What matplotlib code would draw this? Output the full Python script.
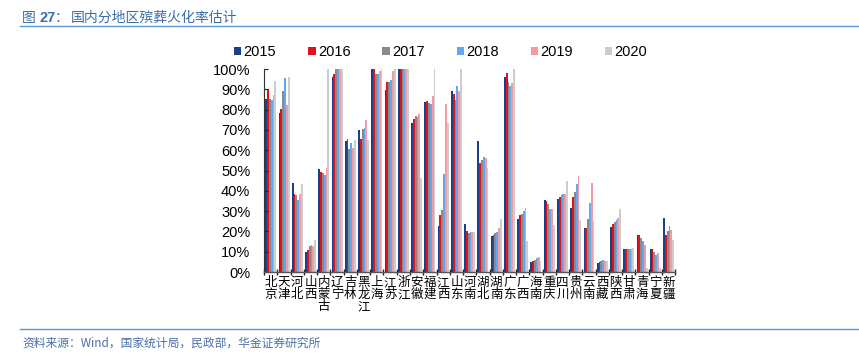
import matplotlib
matplotlib.use("Agg")
import matplotlib.pyplot as plt
import numpy as np
from matplotlib.ticker import FuncFormatter, FixedLocator

plt.rcParams['font.family'] = ['Liberation Sans', 'Noto Sans CJK SC']

# provinces and estimated cremation rates (%)
provinces = ['北京', '天津', '河北', '山西', '内蒙古', '辽宁', '吉林', '黑龙江',
             '上海', '江苏', '浙江', '安徽', '福建', '江西', '山东', '河南',
             '湖北', '湖南', '广东', '广西', '海南', '重庆', '四川', '贵州',
             '云南', '西藏', '陕西', '甘肃', '青海', '宁夏', '新疆']
years = ['2015', '2016', '2017', '2018', '2019', '2020']

v2015 = [85, 78.5, 44, 10, 50.5, 96, 64.5, 69.8, 100, 89.8, 100, 73.6, 83.8, 22.8, 89.3, 23.5,
         64.3, 17.5, 96.2, 26, 4.8, 35.6, 36.1, 31.5, 21.6, 4.3, 22.4, 11.2, 18, 11.4, 26.6]
v2016 = [90, 80.5, 38.5, 11, 49.3, 97.5, 65.3, 65.3, 100, 93.4, 100, 75.6, 84.3, 28.2, 87.6, 20.3,
         53.8, 18.3, 97.9, 28.3, 5.2, 34.8, 36.8, 37.1, 21.6, 5.1, 23.8, 11.2, 18.3, 11.4, 18.3]
v2017 = [85, 89, 38, 13, 48.7, 100, 60.4, 70.6, 97.3, 93.4, 100, 77, 83.5, 30.7, 84.8, 19.3,
         55.4, 19, 93.7, 28.6, 5.8, 33.5, 37.8, 39.3, 26.1, 5.5, 24.5, 11.2, 17, 10, 20]
v2018 = [84.7, 95.5, 35.5, 13.5, 48, 100, 63.4, 71, 97.3, 94.7, 100, 76.6, 83, 48.2, 91.7, 19.8,
         56.5, 19.5, 91.4, 30, 6.8, 31, 38.4, 43.4, 34, 5.8, 25.4, 11.2, 15.2, 8.4, 22.8]
v2019 = [87, 82.5, 38.5, 13, 51, 100, 61.2, 75, 99, 99, 100, 77.7, 86.5, 82.7, 89.3, 19.5,
         56.3, 21.6, 93, 31.6, 7.5, 30.8, 38.5, 47.2, 43.9, 5.6, 26.8, 11.2, 13.4, 9.2, 20.8]
v2020 = [94, 96, 43.5, 16, 100, 100, 65, 65, 100, 100, 100, 46.4, 100, 73.3, 100, 19.5,
         51.2, 26, 100, 15.2, 5.6, 23.4, 44.7, 25.7, 24.9, 5.5, 31.1, 11.6, 1.8, 1.8, 16]

series = [v2015, v2016, v2017, v2018, v2019, v2020]
colors = ['#1c3f8c', '#e2121b', '#8a8a8a', '#62a8ee', '#f59aa1', '#cdcdcd']

W, H = 859, 360
fig = plt.figure(figsize=(W / 100, H / 100), dpi=100)
ax = fig.add_axes([0.3075, 0.2444, 0.4785, 0.5639])

x = np.arange(len(provinces))
w = 0.138
for k, (vals, c, yr) in enumerate(zip(series, colors, years)):
    ax.bar(x + (k - 2.5) * w, vals, width=w, color=c, label=yr, linewidth=0)

ax.set_xlim(-0.5, len(provinces) - 0.5)
ax.set_ylim(0, 100)
ax.set_yticks(np.arange(0, 101, 10))
ax.yaxis.set_major_formatter(FuncFormatter(lambda v, p: '%d%%' % v))
ax.tick_params(axis='y', direction='in', length=3, width=0.8, labelsize=10.5, pad=10,
               colors='#222222', labelcolor='black')

ax.set_xticks(x)
ax.set_xticklabels(['\n'.join(p) for p in provinces], fontsize=9,
                   family=['Noto Sans CJK SC'], linespacing=0.9)
ax.tick_params(axis='x', length=0, pad=3)
ax.xaxis.set_minor_locator(FixedLocator(np.arange(-0.5, len(provinces), 1.0)))
ax.tick_params(axis='x', which='minor', direction='inout', length=5, width=1.0, color='#222222')

for s in ['top', 'right']:
    ax.spines[s].set_visible(False)
ax.spines['left'].set_color('#333333')
ax.spines['left'].set_linewidth(0.8)
ax.spines['bottom'].set_color('#555555')
ax.spines['bottom'].set_linewidth(1.0)

leg = fig.legend(loc='center', bbox_to_anchor=(0.513, 0.856), ncol=6, frameon=False,
                 fontsize=10.5, handlelength=0.5, handleheight=0.5, handletextpad=0.15,
                 columnspacing=2.2)

# title block and source line
tc = '#3b6ea8'
fig.text(22 / W, 0.95, '图', fontsize=10, color=tc, va='center', family=['Noto Sans CJK SC'])
fig.text(39 / W, 0.95, '27', fontsize=10.5, color=tc, va='center', weight='bold')
fig.text(55 / W, 0.95, '：', fontsize=10, color=tc, va='center', family=['Noto Sans CJK SC'])
fig.text(71 / W, 0.95, '国内分地区殡葬火化率估计', fontsize=10, color=tc, va='center',
         family=['Noto Sans CJK SC'])
fig.add_artist(plt.Line2D([0.023, 1.0], [0.927, 0.927], color='#5b95cf', linewidth=1.0))
fig.add_artist(plt.Line2D([0.023, 1.0], [0.087, 0.087], color='#5b95cf', linewidth=1.0))
fig.text(22 / W, 0.048, '资料来源：Wind，国家统计局，民政部，华金证券研究所', fontsize=8.5,
         color='#4a6fa5', va='center', family=['Noto Sans CJK SC', 'DejaVu Sans'])

fig.savefig('out.png', dpi=100)
